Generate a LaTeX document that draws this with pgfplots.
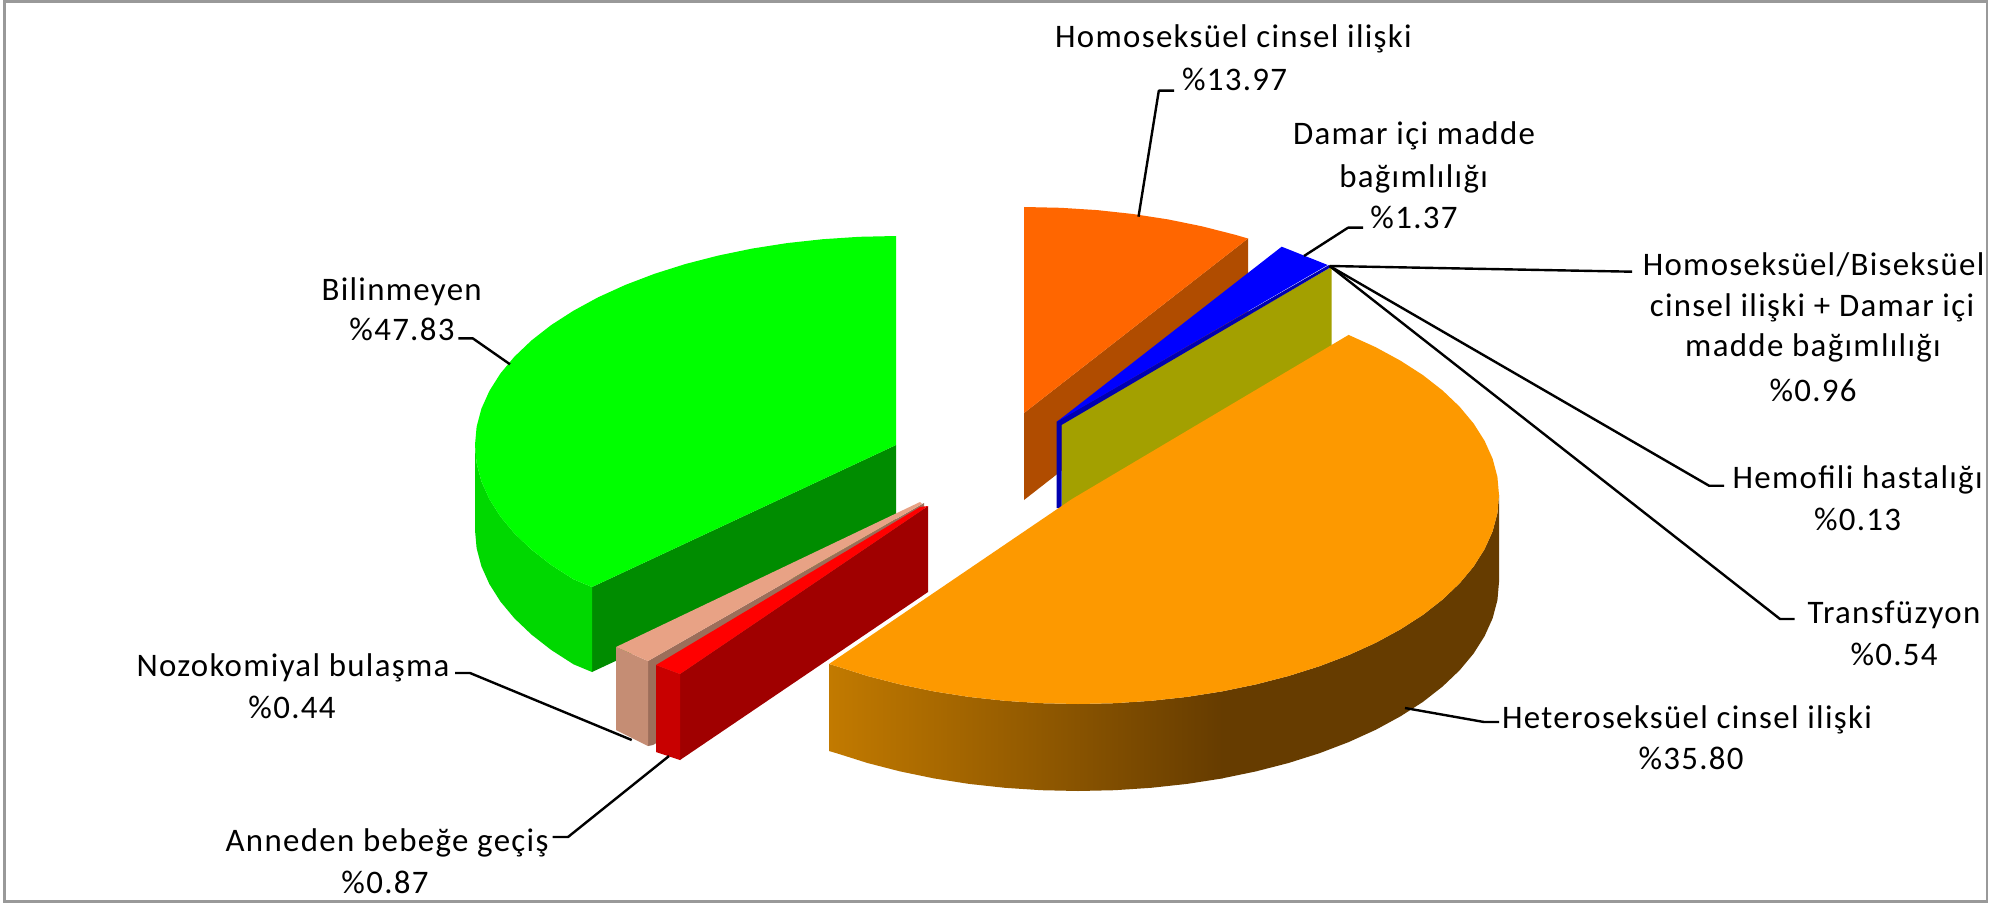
\documentclass[border=0pt]{standalone}
\usepackage{pgfplots}
\pgfplotsset{compat=1.18}
\usepackage{fontspec}
\setmainfont{Carlito}[LetterSpace=4]
\definecolor{grTop}{HTML}{00FF00}
\definecolor{grOut}{HTML}{00D800}
\definecolor{grIn}{HTML}{008C00}
\definecolor{orTop}{HTML}{FD9900}
\definecolor{orDark}{HTML}{663C00}
\definecolor{orLite}{HTML}{C27A00}
\definecolor{rdTop}{HTML}{FF6600}
\definecolor{rdWall}{HTML}{B04C00}
\definecolor{blTop}{HTML}{0000FF}
\definecolor{blDark}{HTML}{0000B0}
\definecolor{olive}{HTML}{A3A000}
\definecolor{saTop}{HTML}{E8A285}
\definecolor{saFace}{HTML}{C58D74}
\definecolor{saSide}{HTML}{9C6E5A}
\definecolor{reTop}{HTML}{FF0000}
\definecolor{reFace}{HTML}{C80000}
\definecolor{reWall}{HTML}{A00000}
\definecolor{frameGr}{HTML}{999999}
\newcommand{\lab}[3]{\node[anchor=base,inner sep=0pt,font=\fontsize{16.5}{18}\selectfont,text=black] at (axis cs:#1,#2) {#3};}
\begin{document}
\begin{tikzpicture}
\begin{axis}[
  scale only axis, width=1003.5bp, height=451.5bp,
  xmin=0, xmax=2007, ymin=0, ymax=903, y dir=reverse,
  axis lines=none, clip=false,
  poly/.style={draw=none, forget plot, mark=none},
  lead/.style={draw=black, line width=1.2bp, forget plot, mark=none, line join=round},
]
% canvas
\addplot[poly, fill=white] coordinates {(0,0)(2007,0)(2007,903)(0,903)};
% frame
\addplot[draw=frameGr, line width=1.35bp, forget plot, mark=none] coordinates {(4.5,1.3)(1987,1.3)(1987,901.5)(4.5,901.5)} -- cycle;

% Bilinmeyen %47.83
\addplot[poly, fill=grIn] coordinates {(896,445)(592,587)(592,672)(896,530)};
\addplot[poly, fill=grOut] coordinates {(475,445)(476.6,463.2)(481.4,481.3)(489.4,499.1)(500.4,516.5)(514.4,533.3)(531.4,549.5)(551.1,564.9)(573.5,579.3)(592,587)
 (592,672)(573.5,664.3)(551.1,649.9)(531.4,634.5)(514.4,618.3)(500.4,601.5)(489.4,584.1)(481.4,566.3)(476.6,548.2)(475,530)};
\addplot[poly, fill=grTop] coordinates {(896,445)(896,236)(859.3,236.8)(822.9,239.2)(787,243.1)(752,248.6)(718.1,255.6)(685.5,264)(654.5,273.8)(625.4,284.9)(598.3,297.2)(573.5,310.7)(551.1,325.1)(531.4,340.5)(514.4,356.7)(500.4,373.5)(489.4,390.9)(481.4,408.7)(476.6,426.8)(475,445)(476.6,463.2)(481.4,481.3)(489.4,499.1)(500.4,516.5)(514.4,533.3)(531.4,549.5)(551.1,564.9)(573.5,579.3)(592,587)};

% Nozokomiyal %0.44
\addplot[poly, fill=saSide] coordinates {(648,661)(924,503)(924,590)(653,745)(648,746)};
\addplot[poly, fill=saFace] coordinates {(616,647)(648,661)(648,746)(616,730)};
\addplot[poly, fill=saTop] coordinates {(616,647)(920,502)(922,504)(648,661)};

% Anneden %0.87
\addplot[poly, fill=reWall] coordinates {(680,674)(928,506)(928,592)(680,760)};
\addplot[poly, fill=reFace] coordinates {(656,665)(680,674)(680,760)(656,752)};
\addplot[poly, fill=reTop] coordinates {(656,665)(920,507)(928,506)(680,674)};

% Homoseksuel %13.97
\addplot[poly, fill=rdWall] coordinates {(1024,413)(1248,238.5)(1248,325)(1024,500)};
\addplot[poly, fill=rdTop] coordinates {(1024,413)(1024,207)(1060.7,207.8)(1097.1,210.1)(1133,214)(1168,219.4)(1201.9,226.3)(1234.5,234.6)(1248,238.5)};

% Damar ici %1.37, with the olive wall
\addplot[poly, fill=olive] coordinates {(1061.7,423.5)(1331.7,266.7)(1331.7,347)(1061.7,510)};
\addplot[poly, fill=blDark] coordinates {(1056.5,421.7)(1329,265)(1331,267)(1061.5,425)(1061.5,508)(1056.5,508)};
\addplot[poly, fill=blTop] coordinates {(1057,421.7)(1281.7,246.7)(1327.7,265)};

% Heteroseksuel %35.80
\addplot[poly, fill=orDark] coordinates {(1499,495)(1497.4,513.2)(1492.6,531.3)(1484.6,549.1)(1473.6,566.5)(1459.6,583.3)(1442.6,599.5)(1422.9,614.9)(1400.5,629.3)(1375.7,642.8)(1348.6,655.1)(1319.5,666.2)(1288.5,676)(1255.9,684.4)(1222,691.4)
 (1222,778.4)(1255.9,771.4)(1288.5,763)(1319.5,753.2)(1348.6,742.1)(1375.7,729.8)(1400.5,716.3)(1422.9,701.9)(1442.6,686.5)(1459.6,670.3)(1473.6,653.5)(1484.6,636.1)(1492.6,618.3)(1497.4,600.2)(1499,582)};
\addplot[draw=none, forget plot, mark=none, left color=orLite, right color=orDark] coordinates {(829,664)(836.5,666.2)(867.5,676)(900.1,684.4)(934,691.4)(969,696.9)(1004.9,700.8)(1041.3,703.2)(1078,704)(1114.7,703.2)(1151.1,700.8)(1187,696.9)(1222,691.4)
 (1222.5,778.4)(1187,783.9)(1151.1,787.8)(1114.7,790.2)(1078,791)(1041.3,790.2)(1004.9,787.8)(969,783.9)(934,778.4)(900.1,771.4)(867.5,763)(836.5,753.2)(829,751)} -- cycle;
\addplot[poly, fill=orTop] coordinates {(1072,499)(1348.6,334.9)(1375.7,347.2)(1400.5,360.7)(1422.9,375.1)(1442.6,390.5)(1459.6,406.7)(1473.6,423.5)(1484.6,440.9)(1492.6,458.7)(1497.4,476.8)(1499,495)(1497.4,513.2)(1492.6,531.3)(1484.6,549.1)(1473.6,566.5)(1459.6,583.3)(1442.6,599.5)(1422.9,614.9)(1400.5,629.3)(1375.7,642.8)(1348.6,655.1)(1319.5,666.2)(1288.5,676)(1255.9,684.4)(1222,691.4)(1187,696.9)(1151.1,700.8)(1114.7,703.2)(1078,704)(1041.3,703.2)(1004.9,700.8)(969,696.9)(934,691.4)(900.1,684.4)(867.5,676)(836.5,666.2)(829,664)};

% leader lines
\addplot[lead] coordinates {(1138.5,216.7)(1158.8,90.7)(1174,90.7)};
\addplot[lead] coordinates {(1304,256)(1348,227.7)(1363,227.7)};
\addplot[lead] coordinates {(1329.6,266)(1632,271.7)};
\addplot[lead] coordinates {(1329.6,266)(1709,485.7)(1724,485.7)};
\addplot[lead] coordinates {(1329.6,266)(1780,619)(1794.6,619)};
\addplot[lead] coordinates {(1405,708)(1484,722)(1499,722)};
\addplot[lead] coordinates {(510,364.3)(472.7,338.3)(458.3,338.3)};
\addplot[lead] coordinates {(631.7,740)(470,673)(455,673)};
\addplot[lead] coordinates {(669,756)(568,837)(552.7,837)};

% labels
\lab{1233.5}{48}{Homoseksüel cinsel ilişki}
\lab{1234.5}{91}{\%13.97}
\lab{1414}{145}{Damar içi madde}
\lab{1413.6}{187}{bağımlılığı}
\lab{1414}{228}{\%1.37}
\lab{1813.6}{275}{Homoseksüel/Biseksüel}
\lab{1812}{316}{cinsel ilişki + Damar içi}
\lab{1813}{356.7}{madde bağımlılığı}
\lab{1813}{401.7}{\%0.96}
\lab{1857.6}{488}{Hemofili hastalığı}
\lab{1857.5}{530.7}{\%0.13}
\lab{1894}{623}{Transfüzyon}
\lab{1894}{665}{\%0.54}
\lab{1687}{728}{Heteroseksüel cinsel ilişki}
\lab{1691}{769}{\%35.80}
\lab{401.7}{300}{Bilinmeyen}
\lab{402}{340.7}{\%47.83}
\lab{293}{676.7}{Nozokomiyal bulaşma}
\lab{292}{718}{\%0.44}
\lab{387}{851.7}{Anneden bebeğe geçiş}
\lab{385}{893}{\%0.87}
\end{axis}
\pgfresetboundingbox
\path (current axis.south west) rectangle (current axis.north east);
\end{tikzpicture}
\end{document}
